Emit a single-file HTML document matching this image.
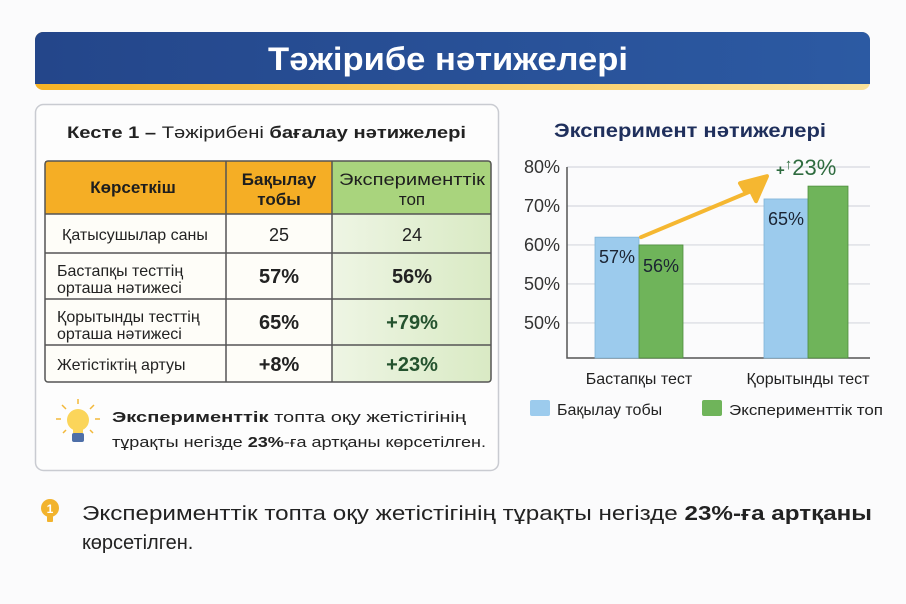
<!DOCTYPE html>
<html><head><meta charset="utf-8"><style>
html,body{margin:0;padding:0;background:#fbfbfc;}
svg{display:block;font-family:"Liberation Sans","DejaVu Sans",sans-serif;}
</style></head><body>
<svg id="root" width="906" height="604" viewBox="0 0 906 604" xmlns="http://www.w3.org/2000/svg">
<defs>
<linearGradient id="hdr" x1="0" x2="1"><stop offset="0" stop-color="#24468a"/><stop offset="1" stop-color="#2c5aa3"/></linearGradient>
<linearGradient id="stripe" x1="0" x2="1"><stop offset="0" stop-color="#f6b325"/><stop offset="1" stop-color="#fbe29a"/></linearGradient>
<linearGradient id="grn" x1="0" x2="1"><stop offset="0" stop-color="#eef5e4"/><stop offset="1" stop-color="#d9eac4"/></linearGradient>
</defs>
<rect width="906" height="604" fill="#fbfbfc"/>
<g>
<rect x="35" y="32" width="835" height="58" rx="8" fill="url(#stripe)"/>
<rect x="35" y="32" width="835" height="52" rx="8" fill="url(#hdr)"/>
<rect x="35" y="74" width="835" height="10" fill="url(#hdr)"/>
<text x="448" y="70" text-anchor="middle" font-size="32" font-weight="bold" fill="#fff" textLength="360" lengthAdjust="spacingAndGlyphs">Тәжірибе нәтижелері</text>
</g>
<g>
<rect x="35.5" y="104.5" width="463" height="366" rx="8" fill="#fdfdfd" stroke="#c9cbd1" stroke-width="1.5"/>
<text x="67" y="138" font-size="17" fill="#222" textLength="399" lengthAdjust="spacingAndGlyphs"><tspan font-weight="bold">Кесте 1 –</tspan> Тәжірибені <tspan font-weight="bold">бағалау нәтижелері</tspan></text>
<g>
<rect x="45" y="161" width="181" height="53" fill="#f5ae25"/>
<rect x="226" y="161" width="106" height="53" fill="#f5ae25"/>
<rect x="332" y="161" width="159" height="53" fill="#a9d47d"/>
<rect x="45" y="214" width="287" height="168" fill="#fefdf8"/>
<rect x="332" y="214" width="159" height="168" fill="url(#grn)"/>
<g stroke="#555" stroke-width="1.5" fill="none">
<rect x="45" y="161" width="446" height="221" rx="3"/>
<line x1="226" y1="161" x2="226" y2="382"/><line x1="332" y1="161" x2="332" y2="382"/>
<line x1="45" y1="214" x2="491" y2="214"/><line x1="45" y1="253" x2="491" y2="253"/>
<line x1="45" y1="299" x2="491" y2="299"/><line x1="45" y1="345" x2="491" y2="345"/>
</g>
<g font-weight="bold" font-size="17" fill="#1e1e1e" text-anchor="middle">
<text x="133" y="193">Көрсеткіш</text>
<text x="279" y="185"><tspan x="279">Бақылау</tspan><tspan x="279" dy="20">тобы</tspan></text>
<text x="412" y="185" font-weight="normal" textLength="146" lengthAdjust="spacingAndGlyphs">Эксперименттік</text>
<text x="412" y="205" font-weight="normal">топ</text>
</g>
<g font-size="16" fill="#222">
<text x="62" y="240">Қатысушылар саны</text>
<text x="57" y="276"><tspan x="57">Бастапқы тесттің</tspan><tspan x="57" dy="17">орташа нәтижесі</tspan></text>
<text x="57" y="322"><tspan x="57">Қорытынды тесттің</tspan><tspan x="57" dy="17">орташа нәтижесі</tspan></text>
<text x="57" y="370">Жетістіктің артуы</text>
</g>
<g font-size="20" text-anchor="middle" fill="#222">
<text x="279" y="241" font-size="18">25</text><text x="412" y="241" font-size="18">24</text>
<text x="279" y="283" font-weight="bold">57%</text><text x="412" y="283" font-weight="bold">56%</text>
<text x="279" y="329" font-weight="bold">65%</text><text x="412" y="329" font-weight="bold" fill="#24522e">+79%</text>
<text x="279" y="371" font-weight="bold">+8%</text><text x="412" y="371" font-weight="bold" fill="#24522e">+23%</text>
</g>
</g>
<g>
<g stroke="#f2b83a" stroke-width="1.5"><line x1="78" y1="399" x2="78" y2="404"/><line x1="62" y1="405" x2="66" y2="409"/><line x1="94" y1="405" x2="90" y2="409"/><line x1="56" y1="419" x2="61" y2="419"/><line x1="95" y1="419" x2="100" y2="419"/><line x1="63" y1="433" x2="66" y2="430"/><line x1="93" y1="433" x2="90" y2="430"/></g>
<circle cx="78" cy="420" r="11" fill="#fbd55a"/><rect x="73" y="427" width="10" height="6" fill="#fbd55a"/>
<rect x="72" y="433" width="12" height="9" rx="2" fill="#4e6fa8"/>
</g>
<text x="112" y="422" font-size="15" fill="#222" textLength="354" lengthAdjust="spacingAndGlyphs"><tspan font-weight="bold">Эксперименттік</tspan> топта оқу жетістігінің</text>
<text x="112" y="447" font-size="15" fill="#222" textLength="374" lengthAdjust="spacingAndGlyphs">тұрақты негізде <tspan font-weight="bold">23%</tspan>-ға артқаны көрсетілген.</text>
</g>
<text x="690" y="137" text-anchor="middle" font-size="19" font-weight="bold" fill="#1f2f5c" textLength="272" lengthAdjust="spacingAndGlyphs">Эксперимент нәтижелері</text>
<g id="chart"></g>
<g>
<g><rect x="530" y="400" width="20" height="16" rx="2" fill="#9ccbed"/><text x="557" y="415" font-size="16" fill="#222">Бақылау тобы</text></g>
<g><rect x="702" y="400" width="20" height="16" rx="2" fill="#6fb45a"/><text x="729" y="415" font-size="15" fill="#222" textLength="154" lengthAdjust="spacingAndGlyphs">Эксперименттік топ</text></g>
</g>
<g>
<circle cx="50" cy="508" r="9" fill="#f2b32d"/><rect x="47" y="516" width="6" height="6" rx="1" fill="#f2b32d"/>
<text x="50" y="513" font-size="12" font-weight="bold" fill="#fff" text-anchor="middle">1</text>
<text x="82" y="520" font-size="20" fill="#222" textLength="790" lengthAdjust="spacingAndGlyphs">Эксперименттік топта оқу жетістігінің тұрақты негізде <tspan font-weight="bold">23%-ға артқаны</tspan></text>
<text x="82" y="549" font-size="20" fill="#222">көрсетілген.</text>
</g>
</svg>
<script>
const categories = ["Бастапқы тест", "Қорытынды тест"];
const controlValues = [62, 71.8];
const experimentalValues = [60, 75.1];
const controlLabels = ["57%", "65%"];
const experimentalLabels = ["56%", ""];
const tickValues = [80, 70, 60, 50, 40];
const tickLabels = ["80%", "70%", "60%", "50%", "50%"];

const NS = "http://www.w3.org/2000/svg";
const g = document.getElementById("chart");
const x0 = 567, x1 = 870, yTop = 167, yBase = 358;
const vMin = 31, vMax = 80;
function yScale(v){ return yBase - (v - vMin) / (vMax - vMin) * (yBase - yTop); }
function groupCenter(i){ return 639 + i * 169; }
function mk(tag, attrs){ const e = document.createElementNS(NS, tag); for (const k in attrs) e.setAttribute(k, attrs[k]); g.appendChild(e); return e; }

tickValues.forEach((v, i) => {
  const y = yScale(v);
  const gl = mk("line", {x1: x0, x2: x1, y1: y, y2: y, stroke: "#d6d8de", "stroke-width": 1.2});
  
  
  const t = mk("text", {x: 560, y: y + 6, "text-anchor": "end", "font-size": 18, fill: "#333"});
  t.textContent = tickLabels[i];
  
  
});
const ax = mk("path", {d: `M${x0} ${yTop} V${yBase} H${x1}`, stroke: "#555", "stroke-width": 1.5, fill: "none"});



categories.forEach((c, i) => {
  const cx = groupCenter(i), w = 44;
  const yb = yScale(controlValues[i]);
  const b1 = mk("rect", {x: cx - w, y: yb, width: w, height: yBase - yb, fill: "#9ccbed", stroke: "#7fb3d8", "stroke-width": 0.8});
  
  
  const yg = yScale(experimentalValues[i]);
  const b2 = mk("rect", {x: cx, y: yg, width: w - 4 * i, height: yBase - yg, fill: "#6fb45a", stroke: "#4e8e3e", "stroke-width": 0.8});
  
  
  if (controlLabels[i]) {
    const l = mk("text", {x: cx - w / 2, y: yb + 26, "text-anchor": "middle", "font-size": 18, fill: "#1b2433"});
    l.textContent = controlLabels[i];
    
    
  }
  if (experimentalLabels[i]) {
    const l = mk("text", {x: cx + w / 2, y: yg + 27, "text-anchor": "middle", "font-size": 18, fill: "#1b2433"});
    l.textContent = experimentalLabels[i];
    
    
  }
  const cl = mk("text", {x: cx, y: 384, "text-anchor": "middle", "font-size": 16, fill: "#222"});
  cl.textContent = c;
  
  
});

const ya = yScale(controlValues[0]);
const arr = mk("polygon", {points: `${groupCenter(0)+2},${ya} 746,${ya-44} 740,${ya-54} 767,${ya-61} 756,${ya-36} 751,${ya-46} ${groupCenter(0)+2},${ya}`, fill: "#f5b731", stroke: "#f5b731", "stroke-width": 4, "stroke-linejoin": "round"});


const gt = mk("text", {x: 776, y: 175, "font-size": 22, fill: "#2e6b3f"});
gt.innerHTML = '<tspan font-size="15" font-weight="bold">+</tspan><tspan font-size="15" font-weight="bold" dy="-6">↑</tspan><tspan dy="6">23%</tspan>';


</script>
</body></html>
